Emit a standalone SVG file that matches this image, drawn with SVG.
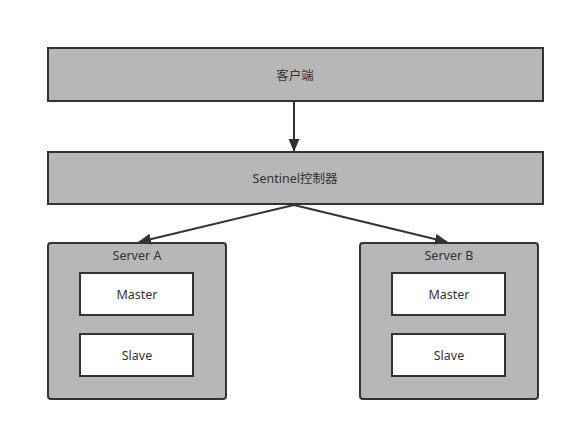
<svg xmlns="http://www.w3.org/2000/svg" width="574" height="431" viewBox="0 0 574 431">
<style>
.box{fill:#b7b7b7;stroke:#333;stroke-width:2}
.inner{fill:#fff;stroke:#333;stroke-width:2}
text{font-family:"Noto Sans","Noto Sans CJK SC",sans-serif;font-size:12.5px;fill:#333;text-anchor:middle;dominant-baseline:central}
.conn{stroke:#333;stroke-width:2;fill:none}
</style>
<defs>
<marker id="arr" markerWidth="14" markerHeight="12" refX="12" refY="5.5" orient="auto" markerUnits="userSpaceOnUse">
<path d="M0,0 L13,5.5 L0,11 Z" fill="#333"/>
</marker>
</defs>
<rect width="574" height="431" fill="#fff"/>
<g id="client"><rect class="box" x="48" y="48" width="495" height="53"/><text x="295" y="75">客户端</text></g>
<g id="sentinel"><rect class="box" x="48" y="152" width="495" height="52"/><text x="295" y="178">Sentinel控制器</text></g>
<g id="serverA"><rect class="box" x="48" y="243" width="178" height="156" rx="3"/><text x="137" y="255">Server A</text>
<g id="masterA"><rect class="inner" x="80" y="273" width="113" height="42"/><text x="137" y="294">Master</text></g>
<g id="slaveA"><rect class="inner" x="80" y="334" width="113" height="42"/><text x="137" y="355">Slave</text></g></g>
<g id="serverB"><rect class="box" x="360" y="243" width="178" height="156" rx="3"/><text x="449" y="255">Server B</text>
<g id="masterB"><rect class="inner" x="392" y="273" width="113" height="42"/><text x="449" y="294">Master</text></g>
<g id="slaveB"><rect class="inner" x="392" y="334" width="113" height="42"/><text x="449" y="355">Slave</text></g></g>
<g id="connectors">
<line class="conn" x1="294" y1="101" x2="294" y2="151" marker-end="url(#arr)"/>
<line class="conn" x1="294" y1="205" x2="139" y2="242" marker-end="url(#arr)"/>
<line class="conn" x1="294" y1="205" x2="447" y2="242" marker-end="url(#arr)"/>
</g>
</svg>
